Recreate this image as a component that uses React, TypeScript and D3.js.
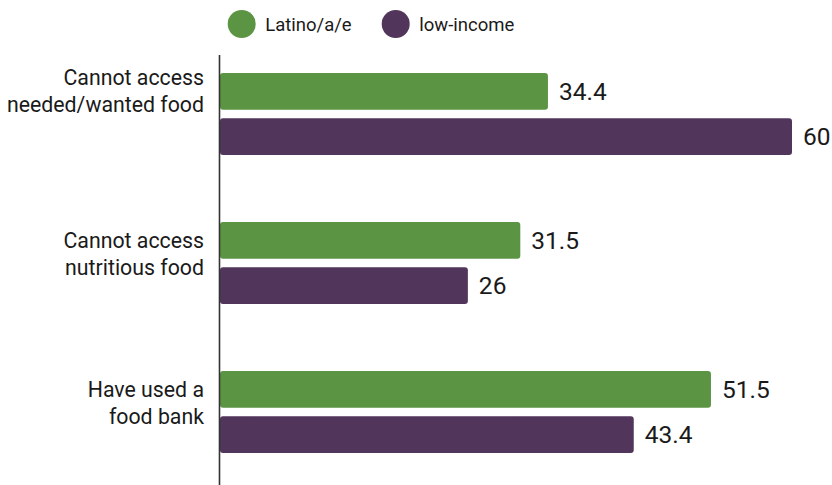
import React from "react";
import * as d3 from "d3";

const categories = ["needed", "nutritious", "foodbank"];
const categoryLabels: string[][] = [
  ["Cannot access", "needed/wanted food", ""],
  ["Cannot access", "nutritious food"],
  ["Have used a", "food bank"],
];
const seriesNames = ["Latino/a/e", "low-income"];
const latinoValues = [34.4, 31.5, 51.5];
const lowIncomeValues = [60, 26, 43.4];
const valueLabels = [["34.4", "60"], ["31.5", "26"], ["51.5", "43.4"]];
const colors = ["#5b9544", "#52355b"];

const W = 832;
const H = 485;
const FONT = "Roboto, 'Noto Sans', sans-serif";

export default function App() {
  const x = d3.scaleLinear().domain([0, 60]).range([220, 792]);
  const y0 = d3.scaleBand<string>().domain(categories).range([73, 453]).paddingInner(0.45).paddingOuter(0);
  const y1 = d3.scaleBand<string>().domain(seriesNames).range([0, y0.bandwidth()]).paddingInner(0.19).paddingOuter(0);
  const series = [latinoValues, lowIncomeValues];
  const lh = 27.5;

  return (
    <svg width={W} height={H} style={{ position: "absolute", left: 0, top: 0, background: "#fff" }} fontFamily={FONT}>
      {/* legend */}
      {seriesNames.map((s, i) => {
        const cx = i === 0 ? 241.7 : 395.7;
        return (
          <g key={s}>
            <circle cx={cx} cy={24} r={14} fill={colors[i]} />
            <text x={cx + 23.5} y={31} fontSize={18.5} fill="#1a1a1a">{s}</text>
          </g>
        );
      })}
      {/* bars */}
      {categories.map((c, ci) => (
        <g key={c} transform={`translate(0,${y0(c)})`}>
          {seriesNames.map((s, si) => {
            const v = series[si][ci];
            const yy = y1(s)!;
            return (
              <g key={s}>
                <rect x={x(0)} y={yy} width={x(v) - x(0)} height={y1.bandwidth()} rx={3} fill={colors[si]} />
                <text x={x(v) + 11} y={yy + y1.bandwidth() / 2} dy="0.36em" fontSize={24.5} fill="#1a1a1a">
                  {valueLabels[ci][si]}
                </text>
              </g>
            );
          })}
        </g>
      ))}
      {/* category labels */}
      {categories.map((c, ci) => {
        const gc = y0(c)! + y0.bandwidth() / 2;
        const lines = categoryLabels[ci];
        const n = lines.length;
        return (
          <text key={c} textAnchor="end" fontSize={21.3} fill="#1a1a1a">
            {lines.map((l, li) => (
              <tspan key={li} x={204} y={gc + (li - (n - 1) / 2) * lh - 1.5}>{l}</tspan>
            ))}
          </text>
        );
      })}
      {/* axis */}
      <line x1={219.5} x2={219.5} y1={55} y2={H} stroke="#333" strokeWidth={1.6} />
    </svg>
  );
}
